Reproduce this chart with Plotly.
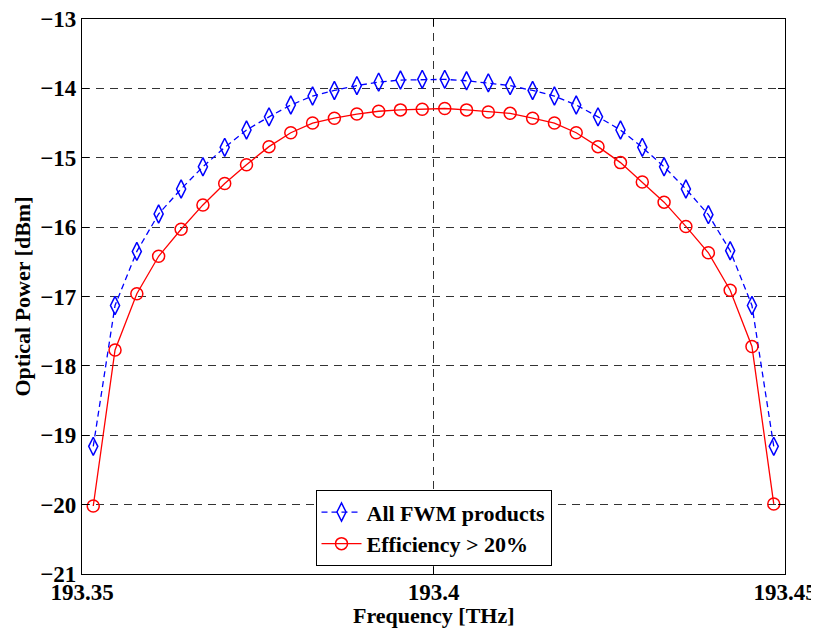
import plotly.graph_objects as go

freq = [193.3516, 193.3547, 193.3578, 193.3609, 193.3641, 193.3672, 193.3703, 193.3734,
        193.3766, 193.3797, 193.3828, 193.3859, 193.3891, 193.3922, 193.3953, 193.3984,
        193.4016, 193.4047, 193.4078, 193.4109, 193.4141, 193.4172, 193.4203, 193.4234,
        193.4266, 193.4297, 193.4328, 193.4359, 193.4391, 193.4422, 193.4453, 193.4484]

all_fwm = [-19.16, -17.13, -16.35, -15.81, -15.45, -15.13, -14.85, -14.60,
           -14.41, -14.24, -14.11, -14.03, -13.96, -13.91, -13.88, -13.87,
           -13.87, -13.89, -13.92, -13.96, -14.03, -14.11, -14.24, -14.41,
           -14.60, -14.85, -15.13, -15.45, -15.82, -16.34, -17.13, -19.16]

eff20 = [-20.02, -17.77, -16.96, -16.42, -16.03, -15.68, -15.37, -15.10,
         -14.84, -14.64, -14.50, -14.43, -14.37, -14.33, -14.31, -14.30,
         -14.29, -14.31, -14.34, -14.36, -14.43, -14.50, -14.64, -14.84,
         -15.07, -15.35, -15.64, -15.99, -16.37, -16.91, -17.72, -19.99]

x_ticks = [193.35, 193.4, 193.45]
x_tick_text = ["193.35", "193.4", "193.45"]
y_ticks = [-21, -20, -19, -18, -17, -16, -15, -14, -13]

FONT = "Liberation Serif"

fig = go.Figure()
fig.add_trace(go.Scatter(
    x=freq, y=all_fwm, mode="lines+markers", name="All FWM products",
    line=dict(color="#0000ff", width=1.3, dash="6px,4px"),
    marker=dict(symbol="diamond-tall-open", size=13, color="#0000ff",
                line=dict(width=1.5, color="#0000ff")),
))
fig.add_trace(go.Scatter(
    x=freq, y=eff20, mode="lines+markers", name="Efficiency > 20%",
    line=dict(color="#ff0000", width=1.3),
    marker=dict(symbol="circle-open", size=12, color="#ff0000",
                line=dict(width=1.5, color="#ff0000")),
))

fig.update_layout(
    width=819, height=631,
    margin=dict(l=74, r=42, t=11, b=65),
    paper_bgcolor="white", plot_bgcolor="white",
    font=dict(family=FONT, color="black", size=23, weight="bold"),
    showlegend=True,
    legend=dict(
        x=0.5, y=0.014, xanchor="center", yanchor="bottom",
        bgcolor="white", bordercolor="black", borderwidth=1,
        font=dict(family=FONT, size=22, weight="bold", color="black"),
        tracegroupgap=0, itemwidth=40,
    ),
    annotations=[
        dict(text="Frequency [THz]", x=0.5, y=0, xref="paper", yref="paper",
             xanchor="center", yanchor="top", yshift=-27, showarrow=False,
             font=dict(family=FONT, size=22, weight="bold", color="black")),
        dict(text="Optical Power [dBm]", x=0, y=0.5, xref="paper", yref="paper",
             xanchor="center", yanchor="middle", xshift=-60, textangle=-90, showarrow=False,
             font=dict(family=FONT, size=22, weight="bold", color="black")),
    ],
)

fig.update_xaxes(
    range=[193.35, 193.45], tickvals=x_ticks, ticktext=x_tick_text,
    showline=True, linecolor="black", linewidth=1.3, mirror="ticks",
    ticks="inside", ticklen=7, tickcolor="black", tickwidth=1,
    showgrid=True, gridcolor="#333333", gridwidth=1, griddash="8px,6px",
    zeroline=False, automargin=False, ticklabeloverflow="allow",
    ticklabelstandoff=-3,
    tickfont=dict(family=FONT, size=23, weight="bold"),
)
fig.update_yaxes(
    range=[-21, -13], tickvals=y_ticks,
    showline=True, linecolor="black", linewidth=1.3, mirror="ticks",
    ticks="inside", ticklen=7, tickcolor="black", tickwidth=1,
    showgrid=True, gridcolor="#333333", gridwidth=1, griddash="8px,6px",
    zeroline=False, automargin=False, ticklabeloverflow="allow",
    tickfont=dict(family=FONT, size=23, weight="bold"),
)

fig.write_html("out.html")
